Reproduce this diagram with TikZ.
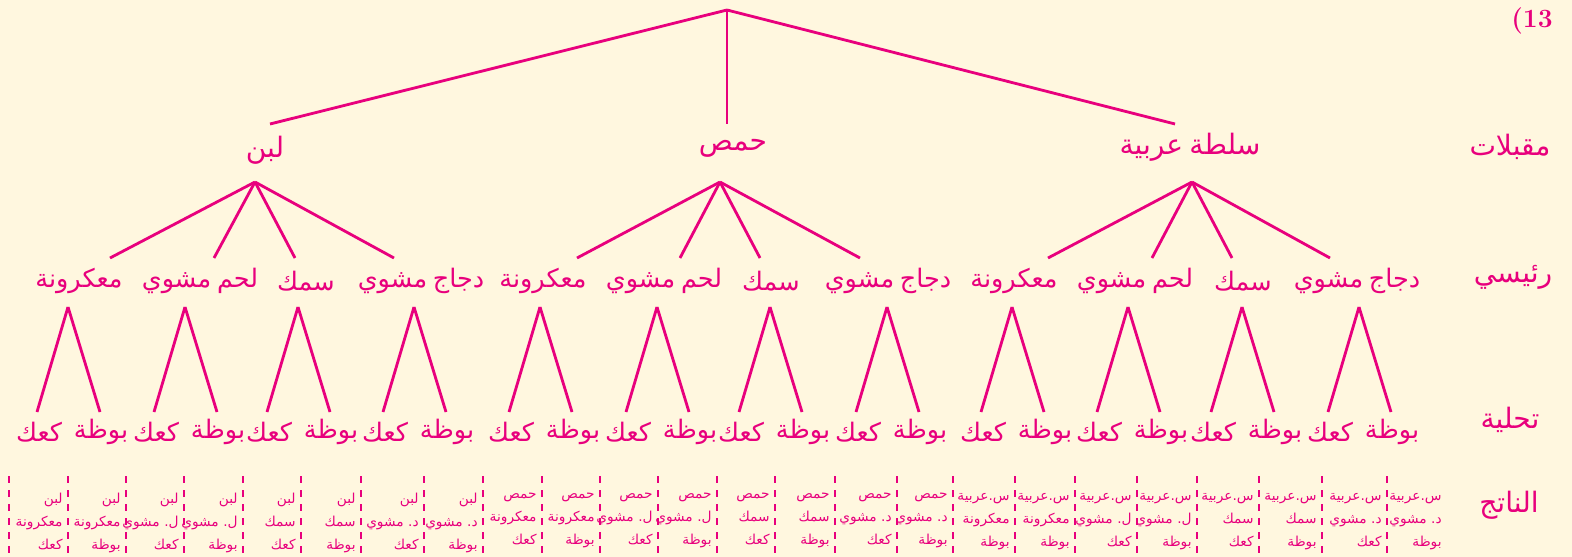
\documentclass[tikz,border=0pt]{standalone}
\usepackage{fontspec}
\newfontfamily\arabicfont[Script=Arabic,WordSpace=0.7]{DejaVu Sans}
\TeXXeTstate=1
\usepackage{xcolor}
\definecolor{treepink}{RGB}{232,0,125}
\definecolor{papercream}{RGB}{255,247,223}
\usetikzlibrary{positioning}
\newcommand{\artxt}[1]{\beginR #1\endR}
\newcommand{\ardot}{\kern0pt.\kern0pt}

\begin{document}
\begin{tikzpicture}[x=0.02cm,y=-0.02cm,line width=1.6pt,treepink,
  lvlone/.style={font=\arabicfont\fontsize{16}{19}\selectfont,inner sep=0pt},
  lvltwo/.style={font=\arabicfont\fontsize{14.5}{17}\selectfont,inner sep=0pt},
  leaf/.style={font=\arabicfont\fontsize{14.5}{17}\selectfont,inner sep=0pt},
  rowlabel/.style={font=\arabicfont\fontsize{16}{19}\selectfont,inner sep=0pt},
  outcome/.style={font=\arabicfont\fontsize{7.8}{13}\selectfont,align=right,anchor=north east,inner sep=0pt},
  sepline/.style={line width=1.1pt,dash pattern=on 4pt off 4pt}]
  \useasboundingbox (0,0) rectangle (1572,557);
  \fill[papercream] (0,0) rectangle (1572,557);
  % row labels
  \node[font=\bfseries\fontsize{15}{18}\selectfont,inner sep=0pt] (qnum) at (1532,21) {(13};
  \node[rowlabel] (r1) at (1510,147) {\artxt{مقبلات}};
  \node[rowlabel] (r2) at (1513,277) {\artxt{رئيسي}};
  \node[rowlabel] (r3) at (1510,420) {\artxt{تحلية}};
  \node[rowlabel] (r4) at (1509,505) {\artxt{الناتج}};
  % starters
  \coordinate (root) at (727,10);
  \coordinate (t1) at (270,124);
  \coordinate (t2) at (727,124);
  \coordinate (t3) at (1175,124);
  \node[lvlone] (s1) at (265,150) {\artxt{لبن}};
  \node[lvlone] (s2) at (733,148) {\artxt{حمص}};
  \node[lvlone] (s3) at (1190,147) {\artxt{سلطة عربية}};
  \coordinate (a1) at (255,182);
  \coordinate (a2) at (720,182);
  \coordinate (a3) at (1192,182);
  \draw (root) -- (t1);
  \draw (root) -- (t2);
  \draw (root) -- (t3);
  % mains and desserts
  \foreach \i/\g/\e/\l/\p/\txt in {1/1/110/79/68/معكرونة, 2/1/214/200/185/لحم مشوي,
      3/1/295/306/298/سمك, 4/1/394/421/414/دجاج مشوي, 5/2/577/543/540/معكرونة,
      6/2/680/664/657/لحم مشوي, 7/2/760/771/770/سمك, 8/2/860/888/887/دجاج مشوي,
      9/3/1048/1014/1012/معكرونة, 10/3/1152/1135/1128/لحم مشوي,
      11/3/1232/1243/1242/سمك, 12/3/1330/1357/1359/دجاج مشوي} {
    \coordinate (e\i) at (\e,258);
    \node[lvltwo] (m\i) at (\l,281) {\artxt{\txt}};
    \coordinate (p\i) at (\p,307);
    \coordinate (k\i) at ({\p-31},412);
    \coordinate (b\i) at ({\p+32},412);
    \node[leaf] (kl\i) at ({\p-29},432) {\artxt{كعك}};
    \node[leaf] (bl\i) at ({\p+33},432) {\artxt{بوظة}};
    \draw (a\g) -- (e\i);
    \draw (p\i) -- (k\i);
    \draw (p\i) -- (b\i);
  }
  % outcomes
  \foreach \x [count=\j] in {9,68,126,184,243,301,361,424,483,542,600,658,717,775,
      835,897,953,1015,1075,1137,1197,1259,1322,1387} {
    \coordinate (da\j) at (\x,476);
    \coordinate (db\j) at (\x,557);
    \draw[sepline] (da\j) -- (db\j);
  }
  \foreach \i/\r/\ta/\tb/\tc in {1/64/لبن/معكرونة/كعك, 2/122/لبن/معكرونة/بوظة,
      3/180/لبن/ل\ardot{} مشوي/كعك, 4/239/لبن/ل\ardot{} مشوي/بوظة, 5/297/لبن/سمك/كعك,
      6/357/لبن/سمك/بوظة, 7/420/لبن/د\ardot{} مشوي/كعك, 8/479/لبن/د\ardot{} مشوي/بوظة,
      9/538/حمص/معكرونة/كعك, 10/596/حمص/معكرونة/بوظة, 11/654/حمص/ل\ardot{} مشوي/كعك,
      12/713/حمص/ل\ardot{} مشوي/بوظة, 13/771/حمص/سمك/كعك, 14/831/حمص/سمك/بوظة,
      15/893/حمص/د\ardot{} مشوي/كعك, 16/949/حمص/د\ardot{} مشوي/بوظة,
      17/1011/س\ardot عربية/معكرونة/بوظة, 18/1071/س\ardot عربية/معكرونة/بوظة,
      19/1133/س\ardot عربية/ل\ardot{} مشوي/كعك, 20/1193/س\ardot عربية/ل\ardot{} مشوي/بوظة,
      21/1255/س\ardot عربية/سمك/كعك, 22/1318/س\ardot عربية/سمك/بوظة,
      23/1383/س\ardot عربية/د\ardot{} مشوي/كعك, 24/1443/س\ardot عربية/د\ardot{} مشوي/بوظة} {
    \node[outcome] (o\i) at (\r,492) {\artxt{\ta}\\\artxt{\tb}\\\artxt{\tc}};
  }
\end{tikzpicture}
\end{document}
